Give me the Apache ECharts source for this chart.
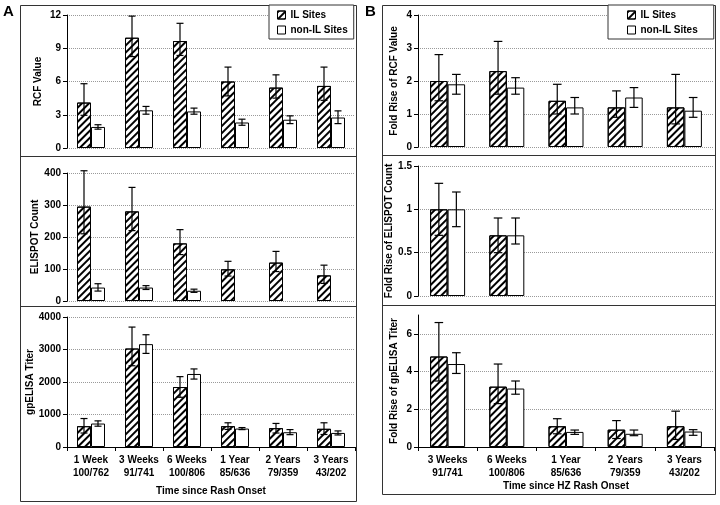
<!DOCTYPE html>
<html><head><meta charset="utf-8">
<script src="https://cdn.jsdelivr.net/npm/echarts@6/dist/echarts.min.js"></script>
<style>html,body{margin:0;padding:0;background:#fff}#c{width:720px;height:505px}</style>
</head><body><div id="c"></div>
<script>
// ---------- categories ----------
const catsA = ['1 Week\n100/762','3 Weeks\n91/741','6 Weeks\n100/806','1 Year\n85/636','2 Years\n79/359','3 Years\n43/202'];
const catsB = ['3 Weeks\n91/741','6 Weeks\n100/806','1 Year\n85/636','2 Years\n79/359','3 Years\n43/202'];

// ---------- Panel A: RCF Value ----------
const rcfIL     = [4.1, 9.95, 9.65, 6.0, 5.45, 5.6];
const rcfILHi   = [5.8, 11.9, 11.25, 7.3, 6.6, 7.3];
const rcfILLo   = [2.95, 8.25, 8.35, 4.7, 4.5, 4.3];
const rcfNon    = [1.9, 3.4, 3.3, 2.3, 2.55, 2.75];
const rcfNonHi  = [2.1, 3.75, 3.6, 2.6, 2.9, 3.35];
const rcfNonLo  = [1.7, 3.05, 3.05, 2.05, 2.2, 2.2];

// ---------- Panel A: ELISPOT Count ----------
const elsIL     = [295, 280, 180, 99, 120, 80];
const elsILHi   = [407, 355, 223, 124, 155, 112];
const elsILLo   = [210, 220, 145, 78, 92, 55];
const elsNon    = [42, 42, 32, null, null, null];
const elsNonHi  = [54, 48, 37, null, null, null];
const elsNonLo  = [31, 36, 27, null, null, null];

// ---------- Panel A: gpELISA Titer ----------
const gpIL      = [640, 3030, 1845, 640, 580, 560];
const gpILHi    = [876, 3690, 2165, 745, 725, 745];
const gpILLo    = [430, 2500, 1530, 540, 430, 385];
const gpNon     = [722, 3165, 2247, 567, 454, 433];
const gpNonHi   = [804, 3454, 2402, 598, 536, 495];
const gpNonLo   = [640, 2880, 2090, 535, 380, 370];

// ---------- Panel B: Fold Rise of RCF Value ----------
const fRcfIL    = [2.0, 2.3, 1.4, 1.2, 1.2];
const fRcfILHi  = [2.8, 3.2, 1.9, 1.7, 2.2];
const fRcfILLo  = [1.4, 1.6, 1.0, 0.9, 0.7];
const fRcfNon   = [1.9, 1.8, 1.2, 1.5, 1.1];
const fRcfNonHi = [2.2, 2.1, 1.5, 1.8, 1.5];
const fRcfNonLo = [1.6, 1.6, 1.0, 1.2, 0.9];

// ---------- Panel B: Fold Rise of ELISPOT Count ----------
const fElsIL    = [1.0, 0.7, null, null, null];
const fElsILHi  = [1.3, 0.9, null, null, null];
const fElsILLo  = [0.7, 0.5, null, null, null];
const fElsNon   = [1.0, 0.7, null, null, null];
const fElsNonHi = [1.2, 0.9, null, null, null];
const fElsNonLo = [0.8, 0.6, null, null, null];

// ---------- Panel B: Fold Rise of gpELISA Titer ----------
const fGpIL     = [4.8, 3.2, 1.1, 0.92, 1.1];
const fGpILHi   = [6.6, 4.4, 1.5, 1.4, 1.9];
const fGpILLo   = [3.5, 2.3, 0.7, 0.45, 0.4];
const fGpNon    = [4.4, 3.1, 0.8, 0.7, 0.82];
const fGpNonHi  = [5.0, 3.5, 0.9, 0.9, 0.92];
const fGpNonLo  = [3.9, 2.8, 0.67, 0.6, 0.62];

const seriesNames = ['IL Sites', 'non-IL Sites'];

const FONT = '"Liberation Sans", Arial, Helvetica, sans-serif';
const txt = {color:'#000', fontFamily:FONT, fontWeight:'bold', fontSize:10};
const hatch = {symbol:'rect', symbolSize:1, dashArrayX:[1,0], dashArrayY:[1.5,2.4], rotation:-Math.PI/4, color:'#000'};

const panels = [
  {left:67, top:15, width:288, height:133, cats:catsA, yName:'RCF Value', yGap:24, max:12, interval:3, bottom:false, barW:14, cap:3.5,
   il:[rcfIL,rcfILLo,rcfILHi], non:[rcfNon,rcfNonLo,rcfNonHi]},
  {left:67, top:173, width:288, height:128, cats:catsA, yName:'ELISPOT Count', yGap:27, max:400, interval:100, bottom:false, barW:14, cap:3.5,
   il:[elsIL,elsILLo,elsILHi], non:[elsNon,elsNonLo,elsNonHi]},
  {left:67, top:317, width:288, height:130, cats:catsA, yName:'gpELISA Titer', yGap:31, max:4000, interval:1000, bottom:true, barW:14, cap:3.5,
   xName:'Time since Rash Onset', xGap:39,
   il:[gpIL,gpILLo,gpILHi], non:[gpNon,gpNonLo,gpNonHi]},
  {left:418, top:15, width:296, height:132, cats:catsB, yName:'Fold Rise of RCF Value', yGap:19, max:4, interval:1, bottom:false, barW:17.5, cap:4.3,
   il:[fRcfIL,fRcfILLo,fRcfILHi], non:[fRcfNon,fRcfNonLo,fRcfNonHi]},
  {left:418, top:166, width:296, height:130, cats:catsB, yName:'Fold Rise of ELISPOT Count', yGap:22, max:1.5, interval:0.5, bottom:false, barW:17.5, cap:4.3,
   il:[fElsIL,fElsILLo,fElsILHi], non:[fElsNon,fElsNonLo,fElsNonHi]},
  {left:418, top:315, width:296, height:132, cats:catsB, yName:'Fold Rise of gpELISA Titer', yGap:19, max:7, interval:2, bottom:true, barW:17.5, cap:4.3,
   xName:'Time since HZ Rash Onset', xGap:34, hideMax:true,
   il:[fGpIL,fGpILLo,fGpILHi], non:[fGpNon,fGpNonLo,fGpNonHi]}
];

const grid=[], xAxis=[], yAxis=[], series=[];
function errSeries(k, lo, hi, side, barW, cap) {
  const data = [];
  lo.forEach((l,i)=>{ if (l != null && hi[i] != null) data.push([i, l, hi[i]]); });
  return {
    type:'custom', xAxisIndex:k, yAxisIndex:k, silent:true, z:5,
    encode:{x:0, y:[1,2]}, data,
    renderItem(params, api) {
      const c = api.value(0);
      const pLo = api.coord([c, api.value(1)]);
      const pHi = api.coord([c, api.value(2)]);
      const x = pLo[0] + side*barW/2;
      const st = {stroke:'#000', lineWidth:1.2};
      return {type:'group', children:[
        {type:'line', shape:{x1:x, y1:pLo[1], x2:x, y2:pHi[1]}, style:st},
        {type:'line', shape:{x1:x-cap, y1:pHi[1], x2:x+cap, y2:pHi[1]}, style:st},
        {type:'line', shape:{x1:x-cap, y1:pLo[1], x2:x+cap, y2:pLo[1]}, style:st}
      ]};
    }
  };
}

panels.forEach((p,k)=>{
  grid.push({left:p.left, top:p.top, width:p.width, height:p.height, containLabel:false});
  xAxis.push({
    type:'category', gridIndex:k, data:p.cats, boundaryGap:true,
    axisLine:{show:p.bottom, lineStyle:{color:'#000', width:1}},
    axisTick:{show:p.bottom, length:4, lineStyle:{color:'#000'}},
    axisLabel:Object.assign({show:p.bottom, lineHeight:13, margin:7, interval:0}, txt),
    splitLine:{show:false},
    name:p.bottom ? p.xName : '', nameLocation:'middle', nameGap:p.xGap || 0,
    nameTextStyle:Object.assign({}, txt)
  });
  const nTicks = Math.floor(p.max/p.interval) + 1 + ((p.max/p.interval) % 1 ? 1 : 0);
  const splitColors = [];
  for (let i=0;i<nTicks;i++) splitColors.push(p.hideMax && i===nTicks-1 ? 'rgba(0,0,0,0)' : '#9a9a9a');
  yAxis.push({
    type:'value', gridIndex:k, min:0, max:p.max, interval:p.interval,
    name:p.yName, nameLocation:'middle', nameGap:p.yGap,
    nameTextStyle:Object.assign({}, txt),
    axisLine:{show:true, lineStyle:{color:'#000', width:1}},
    axisTick:{show:true, length:4, lineStyle:{color:'#000'}},
    axisLabel:Object.assign({margin:6, showMaxLabel: !p.hideMax, formatter: v => String(v)}, txt),
    splitLine:{show:true, lineStyle:{type:'dotted', color:splitColors, width:1}}
  });
  series.push({
    type:'bar', name:seriesNames[0], xAxisIndex:k, yAxisIndex:k, data:p.il[0],
    barWidth:p.barW, barGap:'0%',
    itemStyle:{color:'#fff', borderColor:'#000', borderWidth:1, decal:hatch}
  });
  series.push({
    type:'bar', name:seriesNames[1], xAxisIndex:k, yAxisIndex:k, data:p.non[0],
    barWidth:p.barW, barGap:'0%',
    itemStyle:{color:'#fff', borderColor:'#000', borderWidth:1}
  });
  series.push(errSeries(k, p.il[1], p.il[2], -1, p.barW, p.cap));
  series.push(errSeries(k, p.non[1], p.non[2], 1, p.barW, p.cap));
});

const legendBase = {
  data:seriesNames, orient:'vertical', icon:'rect', itemWidth:8, itemHeight:8, itemGap:5,
  textStyle:Object.assign({}, txt), borderColor:'#333', borderWidth:1, backgroundColor:'#fff',
  itemStyle:{borderColor:'#000', borderWidth:1}, selectedMode:false
};
const legend = [
  Object.assign({}, legendBase, {left:269, top:5, padding:[5,6,4,8]}),
  Object.assign({}, legendBase, {left:608, top:5, padding:[5,16,4,19]})
];

const lineStyle = {stroke:'#333', lineWidth:1, fill:null};
const graphic = [
  {type:'rect', shape:{x:20.5, y:5.5, width:336, height:496}, style:lineStyle, silent:true, z:-1},
  {type:'line', shape:{x1:20.5, y1:156.5, x2:356.5, y2:156.5}, style:lineStyle, silent:true},
  {type:'line', shape:{x1:20.5, y1:306.5, x2:356.5, y2:306.5}, style:lineStyle, silent:true},
  {type:'rect', shape:{x:382.5, y:5.5, width:333, height:489}, style:lineStyle, silent:true, z:-1},
  {type:'line', shape:{x1:382.5, y1:155.5, x2:715.5, y2:155.5}, style:lineStyle, silent:true},
  {type:'line', shape:{x1:382.5, y1:305.5, x2:715.5, y2:305.5}, style:lineStyle, silent:true},
  {type:'text', left:3, top:4, style:{text:'A', font:'bold 15px ' + FONT, fill:'#000'}},
  {type:'text', left:365, top:4, style:{text:'B', font:'bold 15px ' + FONT, fill:'#000'}}
];

const chart = echarts.init(document.getElementById('c'), null, {renderer:'canvas'});
chart.setOption({animation:false, backgroundColor:'#fff', grid, xAxis, yAxis, series, legend, graphic});
</script>
</body></html>
